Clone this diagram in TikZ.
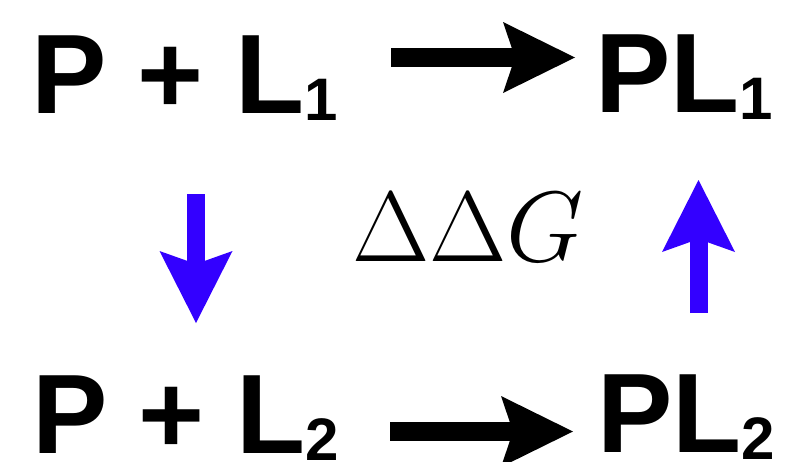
\documentclass[tikz,border=0pt]{standalone}
\usepackage{fix-cm}
\usepackage{fontspec}
\setmainfont{Liberation Sans}
\usetikzlibrary{arrows.meta}
\definecolor{arrowblue}{RGB}{51,0,255}
\newcommand{\subtxt}[1]{\raisebox{-7pt}{\fontsize{60}{60}\selectfont #1}}
\tikzset{
  chem/.style={inner sep=0pt, outer sep=0pt, anchor=base west, font=\fontsize{113}{113}\selectfont\bfseries},
  fatblack/.style={line width=19pt, black, -{Stealth[length=72pt,width=71pt,inset=12pt,line width=0pt]}},
  fatblue/.style={line width=18pt, arrowblue, -{Stealth[length=72pt,width=73pt,inset=13pt,line width=0pt]}},
}
\begin{document}
\begin{tikzpicture}[x=1pt,y=-1pt]
\useasboundingbox (0,0) rectangle (789,461);
\node[chem] (pl1) at (31,113) {P + L\subtxt{1}};
\node[chem] (cpl1) at (595,112) {PL\subtxt{1}};
\node[chem] (pl2) at (32,453) {P + L\subtxt{2}};
\node[chem] (cpl2) at (597,452) {PL\subtxt{2}};
\node[inner sep=0pt, anchor=base west, font=\fontsize{100}{100}\selectfont] (ddg) at (352,261) {$\Delta\Delta G$};
\coordinate (a1s) at (391,57.5);
\coordinate (a1e) at (575,57.5);
\coordinate (a2s) at (390,431.5);
\coordinate (a2e) at (573,431.5);
\coordinate (b1s) at (196,194);
\coordinate (b1e) at (196,323);
\coordinate (b2s) at (698.5,313);
\coordinate (b2e) at (698.5,180);
\draw[fatblack] (a1s) -- (a1e);
\draw[fatblack] (a2s) -- (a2e);
\draw[fatblue] (b1s) -- (b1e);
\draw[fatblue] (b2s) -- (b2e);
\end{tikzpicture}
\end{document}
